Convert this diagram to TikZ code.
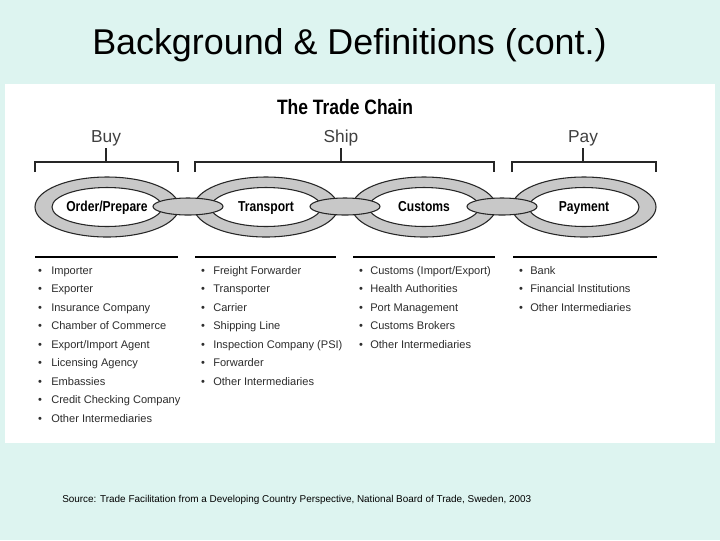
\documentclass[tikz,border=0pt]{standalone}
\usepackage{fontspec}
\setmainfont{Liberation Sans}
\newfontfamily\condfont[FakeStretch=0.84]{Liberation Sans}
\definecolor{bgc}{RGB}{221,244,240}
\definecolor{ringgray}{RGB}{200,200,200}
\definecolor{textgray}{RGB}{45,45,45}
\begin{document}
\begin{tikzpicture}[x=0.75pt,y=-0.75pt,
  ring/.style={draw=black!85, line width=0.8pt},
  linklabel/.style={font=\condfont\bfseries\fontsize{10.8}{12}\selectfont, inner sep=0pt, anchor=base},
  phase/.style={font=\fontsize{13}{15}\selectfont, text=black!75, inner sep=0pt},
  bracket/.style={draw=black!85, line width=1.1pt},
  rule/.style={draw=black, line width=1.6pt},
  item/.style={anchor=base west, font=\fontsize{8.3}{10}\selectfont, text=textgray, inner sep=0pt},
  bul/.style={anchor=base, font=\fontsize{8.3}{10}\selectfont, text=textgray, inner sep=0pt}]
\useasboundingbox (0,0) rectangle (720,540);
\fill[bgc] (0,0) rectangle (720,540);
\fill[white] (5,84) rectangle (715,443);

\node[font=\fontsize{26.9}{30}\selectfont, anchor=west, inner sep=0pt] (title) at (92,45) {Background \& Definitions (cont.)};
\node[font=\condfont\bfseries\fontsize{15.6}{18}\selectfont, inner sep=0pt] (chain) at (345,107) {The Trade Chain};

% phase labels and brackets
\node[phase] (buy) at (106,138) {Buy};
\node[phase] (ship) at (341,138) {Ship};
\node[phase] (pay) at (583,138) {Pay};
\coordinate (buyc) at (106,162);
\coordinate (shipc) at (341,162);
\coordinate (payc) at (583,162);
\draw[bracket] (106,148) -- (buyc);
\draw[bracket] (341,148) -- (shipc);
\draw[bracket] (583,148) -- (payc);
\draw[bracket] (35,172) -- (35,162) -- (178,162) -- (178,172);
\draw[bracket] (195,172) -- (195,162) -- (494,162) -- (494,172);
\draw[bracket] (512,172) -- (512,162) -- (656,162) -- (656,172);

% rings
\foreach \cx/\nm in {107/r1, 266/r2, 424/r3, 584/r4}{
  \fill[ringgray, even odd rule] (\cx,207) ellipse [x radius=72, y radius=30]
                                 (\cx,207) ellipse [x radius=55, y radius=19.5];
  \draw[ring] (\cx,207) ellipse [x radius=72, y radius=30];
  \draw[ring, fill=white] (\cx,207) ellipse [x radius=55, y radius=19.5];
  \coordinate (\nm) at (\cx,207);
}
% connecting links
\foreach \cx in {188, 345, 502}{
  \draw[ring, fill=ringgray] (\cx,206.5) ellipse [x radius=35, y radius=8.5];
}
\node[linklabel] (op) at (107,211) {Order/Prepare};
\node[linklabel] (tr) at (266,211) {Transport};
\node[linklabel] (cu) at (424,211) {Customs};
\node[linklabel] (pm) at (584,211) {Payment};

% rules
\draw[rule] (35,257) -- (178,257);
\draw[rule] (195,257) -- (336,257);
\draw[rule] (353,257) -- (495,257);
\draw[rule] (513,257) -- (657,257);

% lists
\foreach \t [count=\i] in {Importer, Exporter, Insurance Company, Chamber of Commerce, Export/Import Agent, Licensing Agency, Embassies, Credit Checking Company, Other Intermediaries}{
  \node[bul] (b1\i) at (40,{274+18.5*(\i-1)}) {•};
  \node[item] (l1\i) at (51,{274+18.5*(\i-1)}) {\t};
}
\foreach \t [count=\i] in {Freight Forwarder, Transporter, Carrier, Shipping Line, Inspection Company (PSI), Forwarder, Other Intermediaries}{
  \node[bul] (b2\i) at (203,{274+18.5*(\i-1)}) {•};
  \node[item] (l2\i) at (213,{274+18.5*(\i-1)}) {\t};
}
\foreach \t [count=\i] in {Customs (Import/Export), Health Authorities, Port Management, Customs Brokers, Other Intermediaries}{
  \node[bul] (b3\i) at (361,{274+18.5*(\i-1)}) {•};
  \node[item] (l3\i) at (370,{274+18.5*(\i-1)}) {\t};
}
\foreach \t [count=\i] in {Bank, Financial Institutions, Other Intermediaries}{
  \node[bul] (b4\i) at (521,{274+18.5*(\i-1)}) {•};
  \node[item] (l4\i) at (530,{274+18.5*(\i-1)}) {\t};
}

\node[anchor=west, inner sep=0pt, font=\fontsize{7.45}{9}\selectfont] (src) at (62,500) {Source: Trade Facilitation from a Developing Country Perspective, National Board of Trade, Sweden, 2003};
\end{tikzpicture}
\end{document}
